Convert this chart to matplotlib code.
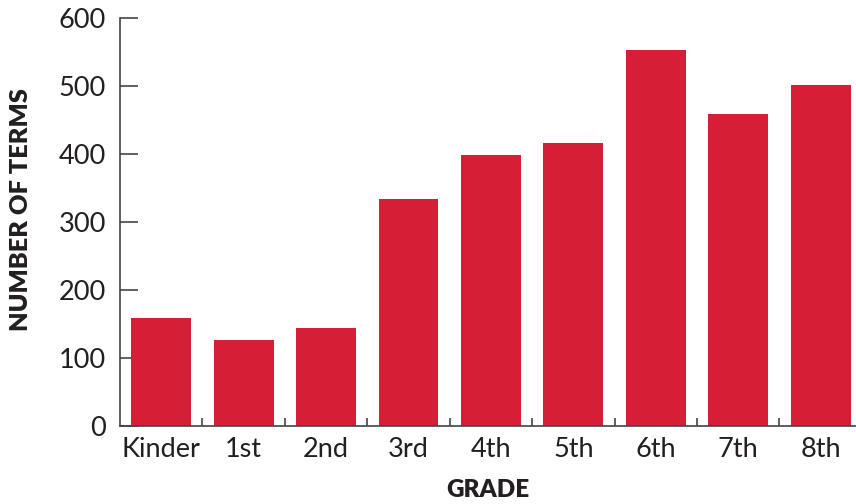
import numpy as np
import matplotlib
matplotlib.use("Agg")
import matplotlib.pyplot as plt

# data
grades = ["Kinder", "1st", "2nd", "3rd", "4th", "5th", "6th", "7th", "8th"]
terms = [159, 127, 144, 334, 398, 416, 553, 459, 501]
y_ticks = [0, 100, 200, 300, 400, 500, 600]

plt.rcParams["font.family"] = ["Lato", "DejaVu Sans"]

fig = plt.figure(figsize=(8.56, 5.04), dpi=100)
ax = fig.add_axes([120 / 856, 1 - 426 / 504, 1 - 120 / 856, (426 - 18) / 504])

x = np.arange(len(grades))
ax.bar(x, terms, width=0.727, color="#D61F37", zorder=2)

ax.set_xlim(-0.5, 8.43)
ax.set_ylim(0, 600)

ax.spines["top"].set_visible(False)
ax.spines["right"].set_visible(False)
for s in ("left", "bottom"):
    ax.spines[s].set_color("#444444")
    ax.spines[s].set_linewidth(1.2)

ax.set_yticks(y_ticks)
ax.tick_params(axis="y", direction="in", length=13, width=1.2, color="#444444",
               pad=10, labelsize=19.5, labelcolor="#231f20")
ax.set_xticks(x)
ax.set_xticklabels(grades)
ax.tick_params(axis="x", which="major", length=0, pad=8, labelsize=19.5, labelcolor="#231f20")
ax.set_xticks(x[:-1] + 0.5, minor=True)
ax.tick_params(axis="x", which="minor", direction="in", length=6, width=1.2, color="#444444")

ax.set_ylabel("NUMBER OF TERMS", fontsize=18.3, fontweight="heavy", color="#231f20")
ax.yaxis.set_label_coords(-0.119, 0.53)
ax.set_xlabel("GRADE", fontsize=17.5, fontweight="heavy", color="#231f20", labelpad=12)

fig.savefig("out.png", dpi=100)
